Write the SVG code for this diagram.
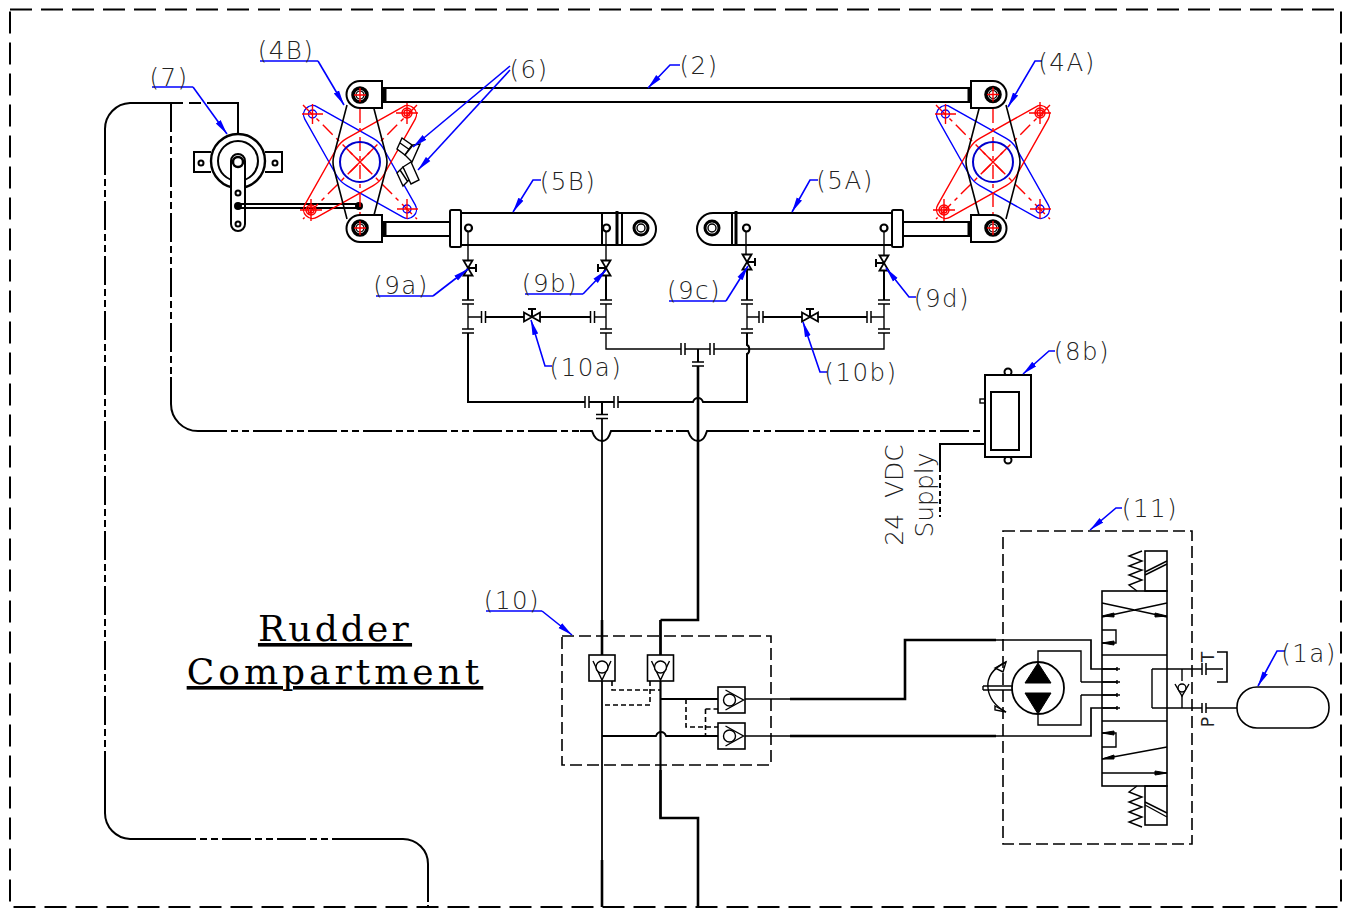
<svg xmlns="http://www.w3.org/2000/svg" width="1350" height="910" viewBox="0 0 1350 910">
<style>
text{font-family:"DejaVu Sans","Liberation Sans",sans-serif;font-weight:200;fill:#222}
.lbl{font-size:24.5px;text-anchor:middle;letter-spacing:1.5px}
.ttl{font-family:"DejaVu Serif","Liberation Serif",serif;font-weight:400;font-size:36px;text-anchor:middle;fill:#000;text-decoration:underline;letter-spacing:4px}
.rot{font-size:25px;text-anchor:middle}
.k{fill:none;stroke:#000;stroke-width:2}
.kw{fill:#fff;stroke:#000;stroke-width:2}
.t{fill:none;stroke:#000;stroke-width:1.4}
.w{fill:none;stroke:#000;stroke-width:2.6}
.wd{fill:none;stroke:#000;stroke-width:2;stroke-dasharray:29 4 7 4 7 4}
.d{fill:none;stroke:#000;stroke-width:1.6;stroke-dasharray:12 5}
.ds{fill:none;stroke:#000;stroke-width:1.6;stroke-dasharray:5 3}
.r{fill:none;stroke:#f00;stroke-width:1.4}
.rd{fill:none;stroke:#f00;stroke-width:1.4;stroke-dasharray:14 5 4 5}
.b{fill:none;stroke:#00f;stroke-width:1.4}
.l{fill:none;stroke:#00f;stroke-width:1.6;marker-end:url(#ah)}
.u{fill:none;stroke:#00f;stroke-width:1.6}
.blk{fill:#000;stroke:#000}
</style>
<defs>
<marker id="ah" markerUnits="userSpaceOnUse" markerWidth="16" markerHeight="8" refX="15" refY="4" orient="auto"><path d="M0 1 L15 4 L0 7 Z" fill="#00f"/></marker>
<path id="plate" d="M7.3 26 L69.4 8.7 A9 9 0 0 0 69.4 -8.7 L7.3 -26 A27 27 0 0 0 -7.3 -26 L-69.4 -8.7 A9 9 0 0 0 -69.4 8.7 L-7.3 26 A27 27 0 0 0 7.3 26 Z"/>
<g id="lobe"><circle r="5" class="r"/><circle r="3" class="r"/><path d="M-11 0H11M0 -11V11" class="r"/></g>
<g id="brg"><circle r="7" fill="#fff" stroke="#000" stroke-width="3.600"/><circle r="4" fill="none" stroke="#000" stroke-width="1.200"/><path d="M-6 0H6M0 -7V7" class="r"/></g>
<g id="vv"><path d="M-4.5 -7.5H4.5L-4.5 7.5H4.5Z" fill="#fff" stroke="#000" stroke-width="1.8"/></g>
<g id="vh"><path d="M-8 -4.5V4.5L8 -4.5V4.5Z" fill="#fff" stroke="#000" stroke-width="1.8"/><path d="M0 0V-8M-4 -8H4" class="k"/></g>
<path id="fh" d="M-6 -2H6M-6 2H6" stroke="#000" stroke-width="1.5" fill="none"/>
<path id="fv" d="M-2 -6V6M2 -6V6" stroke="#000" stroke-width="1.5" fill="none"/>
<g id="cvd"><rect x="-13" y="-13" width="26" height="26" fill="#fff" stroke="#000" stroke-width="1.6"/><path d="M-9 -7L0 12L9 -7" class="t"/><circle cy="-1" r="6" fill="#fff" stroke="#000" stroke-width="1.4"/></g>
<g id="cvr"><rect x="-13.5" y="-13" width="27" height="26" fill="#fff" stroke="#000" stroke-width="1.6"/><path d="M-6 -10L12 0L-6 10" class="t"/><circle cx="-2" r="6" fill="#fff" stroke="#000" stroke-width="1.4"/></g>
</defs>
<rect width="1350" height="910" fill="#fff"/>

<g id="border"><rect x="10" y="9.500" width="1331" height="897.500" fill="none" stroke="#000" stroke-width="2" stroke-dasharray="22 9"/></g>

<g id="connectors">
<path class="wd" d="M428 895V907" style="stroke-dasharray:7 3"/>
<path class="k" d="M428 895V864A25 25 0 0 0 403 839H361M172 839H130A26 26 0 0 1 105 813V780M105 165V129A26 26 0 0 1 130 103H171"/>
<path class="wd" d="M361 839H172M105 780V165"/>
<path class="wd" d="M171 103V377"/>
<path class="k" d="M171 377V404A27 27 0 0 0 198 431"/>
<path class="wd" d="M198 431H580"/>
<path class="k" d="M580 431H592C594 437 597 441 602 441C607 441 609 437 611 431H622M676 431H688C690 437 693 441 698 441C703 441 705 437 707 431H720"/>
<path class="wd" d="M622 431H676"/>
<path class="wd" d="M720 431H985"/>
<path class="d" d="M171 103H212" style="stroke-width:2;stroke-dasharray:12 6"/>
<path class="k" d="M210 103H238V133"/>
<path class="k" d="M985 444H940V467"/>
<path class="ds" d="M940 467V517" style="stroke-width:2"/>
<path class="t" d="M468 232V261M606 232V261M746 232V255M884 232V255"/>
<path class="k" d="M468 276V300M606 276V300M747 270V300M884 270V300"/>
<path class="t" d="M468 304V329M606 304V329M747 304V329M884 304V329"/>
<path class="t" d="M468 317H482M594 317H606M747 317H759M871 317H884"/>
<path class="k" d="M485 317H524M540 317H591M763 317H802M818 317H867"/>
<path class="k" d="M468 333V402H585M589 402H614M618 402H693C694 399 696 398 698 398C700 398 702 399 703 402H747V354C750 353 750 346 747 345V333"/>
<path class="t" d="M606 333V349H681M685 349H710M714 349H884V333"/>
<path class="k" d="M602 402V415M698 349V362"/>
<path class="t" d="M602 418V860" style="stroke-width:1.8"/>
<path class="w" d="M602 860V907"/>
<path class="w" d="M698 366V620H660.500"/>
<path class="t" d="M660.500 620V818" style="stroke-width:1.8"/>
<path class="w" d="M660.500 770V818H698V907"/>
<path class="w" d="M602 620V655"/>
<path class="w" d="M660.500 620V655"/>
<g>
<use href="#fh" x="468" y="302"/><use href="#fh" x="606" y="302"/><use href="#fh" x="747" y="302"/><use href="#fh" x="884" y="302"/>
<use href="#fh" x="468" y="331"/><use href="#fh" x="606" y="331"/><use href="#fh" x="747" y="331"/><use href="#fh" x="884" y="331"/>
<use href="#fv" x="483.500" y="317"/><use href="#fv" x="592.500" y="317"/><use href="#fv" x="761" y="317"/><use href="#fv" x="869" y="317"/>
<use href="#fv" x="587" y="402"/><use href="#fv" x="616" y="402"/><use href="#fv" x="683" y="349"/><use href="#fv" x="712" y="349"/>
<use href="#fh" x="602" y="416.500"/><use href="#fh" x="698" y="364"/>
</g>
<use href="#vh" x="532" y="317"/><use href="#vh" x="810" y="317"/>
<path class="k" d="M660.500 681V770" style="stroke-width:1.6"/>
<path class="t" d="M660.500 699H718M602 736H656C657 733 659 732 661 732C663 732 665 733 666 736H718" style="stroke-width:1.8"/>
<path class="t" d="M745 699H790M745 736H790M996 640H1091V669H1117M996 736H1091V708H1117" style="stroke-width:1.700"/>
<path class="w" d="M790 699H905V640H996M790 736H996"/>
<path class="ds" d="M612 681V690H650M650 681V705H602M650 690H661"/>
<path class="ds" d="M686 699V727H718M705.500 709V736M705.500 709H718"/>
</g>

<g id="node-7">
<circle cx="238" cy="161" r="27" class="kw" style="stroke-width:2.400"/>
<path d="M211 152H194V172H211M265 152H282V172H265" class="k"/>
<circle cx="238" cy="161" r="20" class="k"/>
<circle cx="201" cy="163" r="2.500" class="k"/><circle cx="275" cy="163" r="2.500" class="k"/>
<path d="M231 161A7 7 0 0 1 245 161V224A7 7 0 0 1 231 224Z" class="kw"/>
<circle cx="238" cy="162" r="5" fill="#fff" stroke="#000" stroke-width="2.500"/>
<circle cx="238" cy="193" r="2.500" class="k"/><circle cx="238" cy="224" r="2.500" class="k"/>
<circle cx="238" cy="206" r="3" fill="#000" stroke="#000" stroke-width="2"/>
<path d="M238 204H359M238 208H359" class="k"/>
<circle cx="359" cy="206" r="3" fill="#000" stroke="#000" stroke-width="2"/>
</g>

<g id="node-4B">
<use href="#plate" transform="translate(360 162) rotate(45)" class="b"/>
<use href="#plate" transform="translate(360 162) rotate(-45)" class="r"/>
<path d="M303 105L417 219M417 105L303 219M360 81V242" class="rd"/>
<path d="M350 152L370 172M370 152L350 172" class="r"/>
<circle cx="360" cy="162" r="20" fill="none" stroke="#00c" stroke-width="2"/>
<circle cx="312.500" cy="114" r="4" class="b"/><circle cx="407" cy="209" r="4" class="b"/>
<use href="#lobe" x="407" y="113"/><use href="#lobe" x="311" y="210"/>
<path d="M302 114H323M312.500 104V124M397 209H418M407 199V219" class="r"/>
<path d="M347 105L334 155Q332 162 334 169L347 219M373 105L386 155Q388 162 386 169L373 219" class="t" style="stroke-width:1.600"/>
<path d="M360 81H382V108H360A13.500 13.500 0 0 1 360 81Z" class="kw"/>
<path d="M360 215H382V242H360A13.500 13.500 0 0 1 360 215Z" class="kw"/>
<use href="#brg" x="360" y="95"/><use href="#brg" x="360" y="228"/>
<path d="M402 138L412 145L405 155L397 149ZM400 143L410 150" class="kw" style="stroke-width:1.400"/>
<path d="M413 145L420 144L412 162L405 155Z" class="kw" style="stroke-width:1.400"/>
<path d="M397 173L403 167L411 178L403 186ZM400 170L408 182" class="kw" style="stroke-width:1.400"/>
<path d="M403 167L411 162L419 180L411 184Z" class="kw" style="stroke-width:1.400"/>
</g>

<g id="node-4A">
<use href="#plate" transform="translate(993 162) rotate(45)" class="b"/>
<use href="#plate" transform="translate(993 162) rotate(-45)" class="r"/>
<path d="M936 105L1050 219M1050 105L936 219M993 81V242" class="rd"/>
<path d="M983 152L1003 172M1003 152L983 172" class="r"/>
<circle cx="993" cy="162" r="20" fill="none" stroke="#00c" stroke-width="2"/>
<circle cx="945.500" cy="114" r="4" class="b"/><circle cx="1040" cy="209" r="4" class="b"/>
<use href="#lobe" x="1040" y="113"/><use href="#lobe" x="944" y="210"/>
<path d="M935 114H956M945.500 104V124M1030 209H1051M1040 199V219" class="r"/>
<path d="M980 105L967 155Q965 162 967 169L980 219M1006 105L1019 155Q1021 162 1019 169L1006 219" class="t" style="stroke-width:1.600"/>
<path d="M993 81H971V108H993A13.500 13.500 0 0 0 993 81Z" class="kw"/>
<path d="M993 215H971V242H993A13.500 13.500 0 0 0 993 215Z" class="kw"/>
<use href="#brg" x="993" y="94.500"/><use href="#brg" x="993" y="228"/>
</g>

<g id="node-2"><rect x="384" y="88" width="586" height="14" class="k"/><path d="M385.500 88V102M968.500 88V102" class="k"/></g>

<g id="node-5B">
<rect x="384" y="222" width="66" height="14" class="k"/><path d="M385.500 222V236" class="k"/>
<rect x="450" y="210" width="11" height="37" rx="1.500" class="kw"/>
<path d="M461 213H640A16 16 0 0 1 640 245H461" class="k"/>
<path d="M602 213V245M622 213V245" class="k"/>
<path d="M617 211V246" class="k" style="stroke-width:3"/>
<circle cx="468.500" cy="228" r="3.500" fill="#fff" stroke="#000" stroke-width="2.200"/>
<circle cx="606.500" cy="228" r="3.500" fill="#fff" stroke="#000" stroke-width="2.200"/>
<circle cx="641" cy="228" r="7" fill="#fff" stroke="#000" stroke-width="3"/><circle cx="641" cy="228" r="4" class="t"/>
</g>

<g id="node-5A">
<rect x="903" y="222" width="67" height="14" class="k"/><path d="M968.500 222V236" class="k"/>
<rect x="892" y="210" width="11" height="37" rx="1.500" class="kw"/>
<path d="M892 213H713A16 16 0 0 0 713 245H892" class="k"/>
<path d="M732 213V245" class="k"/>
<path d="M736 211V246" class="k" style="stroke-width:3"/>
<circle cx="746.500" cy="228" r="3.500" fill="#fff" stroke="#000" stroke-width="2.200"/>
<circle cx="884" cy="228" r="3.500" fill="#fff" stroke="#000" stroke-width="2.200"/>
<circle cx="712" cy="228" r="7" fill="#fff" stroke="#000" stroke-width="3"/><circle cx="712" cy="228" r="4" class="t"/>
</g>

<g id="node-9a"><use href="#vv" x="468" y="268"/><path d="M468 268H476M476 264V272" class="k"/></g>
<g id="node-9b"><use href="#vv" x="606" y="268"/><path d="M606 268H598M598 264V272" class="k"/></g>
<g id="node-9c"><use href="#vv" x="747" y="262"/><path d="M747 262H755M755 258V266" class="k"/></g>
<g id="node-9d"><use href="#vv" x="884" y="263"/><path d="M884 263H876M876 259V267" class="k"/></g>

<g id="node-8b">
<circle cx="1008" cy="372" r="3.500" class="kw"/><circle cx="1008" cy="460" r="3.500" class="kw"/>
<rect x="980" y="399" width="5" height="4" class="k" style="stroke-width:1.400"/>
<rect x="985" y="375" width="46" height="82" class="kw"/>
<rect x="991" y="392" width="28" height="58" class="k"/>
</g>

<g id="node-10">
<rect x="562" y="636" width="209" height="129" class="d"/>
<use href="#cvd" x="602" y="668"/><use href="#cvd" x="660.500" y="668"/>
<use href="#cvr" x="731.500" y="700"/><use href="#cvr" x="731.500" y="736"/>
</g>

<g id="node-11">
<rect x="1003" y="531" width="189" height="313" class="d"/>
<path class="t" d="M1081 682H1117M1081 695H1117M1117 667V671M1117 680V684M1117 693V697M1117 706V710"/>
<path class="t" d="M1038 663V651H1081V682M1038 714V725H1081V695"/>
<circle cx="1038" cy="688" r="26" class="kw" style="stroke-width:1.800"/>
<path class="blk" d="M1038 663L1025 683H1051ZM1025 693H1051L1038 714Z"/>
<path class="t" d="M983 686H1012M983 690H1012M983 686V690"/>
<path class="t" d="M1006 662C990 670 987 680 988 688C989 698 995 706 1006 712"/>
<path class="t" d="M995 668L1006 662L1003 672ZM995 706L1006 712L995 710Z"/>
<rect x="1102" y="591" width="65" height="195" class="k" style="stroke-width:1.600"/>
<path class="t" d="M1102 655H1167M1102 721H1167M1102 669H1120M1102 682H1120M1102 695H1120M1102 708H1120" style="stroke-width:1.600"/>
<path class="t" d="M1102 603L1167 617M1167 603L1102 617M1102 630H1116V643H1102M1102 733H1116V747H1102M1102 759L1167 747M1102 773H1167"/>
<path class="blk" d="M1102 616L1114 613V617ZM1167 616L1155 613V617ZM1102 643L1114 641V645ZM1102 733L1114 731V735ZM1102 759L1114 755V759ZM1167 773L1155 771V775Z"/>
<path class="t" d="M1152 669V708M1152 669H1202M1182 669V681M1182 695V708"/>
<path class="t" d="M1206 669H1223M1217 652H1227V682H1217M1152 708H1202M1206 708H1237" style="stroke-width:1.600"/>
<path class="t" d="M1202 663V675M1206 663V675M1202 703V713M1206 703V713" style="stroke-width:1.500"/>
<path class="t" d="M1175 684L1182 696L1189 684"/><circle cx="1182" cy="688" r="4" class="t"/>
<text style="font-size:17px;font-weight:400;text-anchor:middle" transform="translate(1214 657) rotate(-90)">T</text>
<text style="font-size:17px;font-weight:400;text-anchor:middle" transform="translate(1214 722) rotate(-90)">P</text>
<rect x="1145" y="551" width="22" height="40" class="k" style="stroke-width:1.600"/>
<path class="t" d="M1145 572L1167 561M1145 575L1167 564"/>
<path class="t" d="M1142 551L1129 556L1142 561L1129 566L1142 570L1129 575L1142 580L1129 585L1137 591"/>
<rect x="1145" y="786" width="22" height="39" class="k" style="stroke-width:1.600"/>
<path class="t" d="M1145 802L1167 813M1145 805L1167 817"/>
<path class="t" d="M1137 786L1129 792L1142 797L1129 802L1142 807L1129 812L1142 817L1129 822L1142 827"/>
</g>

<g id="node-1a"><rect x="1237" y="687" width="92" height="41" rx="20" ry="20" class="k" style="stroke-width:1.600"/></g>

<g id="leaders">
<path class="l" d="M193 87L227 134"/><path class="u" d="M152 87H193"/>
<path class="l" d="M318 61L344 105"/><path class="u" d="M260 61H318"/>
<path class="l" d="M510 66L413 147"/><path class="l" d="M510 70L418 170"/>
<path class="l" d="M680 65H670L648 88"/>
<path class="l" d="M1042 61H1035L1008 107"/>
<path class="l" d="M541 180H533L513 212"/>
<path class="l" d="M818 180H810L792 212"/>
<path class="l" d="M433 296L468 269"/><path class="u" d="M376 296H433"/>
<path class="l" d="M583 294L606 270"/><path class="u" d="M525 294H583"/>
<path class="l" d="M726 301L748 266"/><path class="u" d="M669 301H726"/>
<path class="l" d="M916 297H909L886 268"/>
<path class="l" d="M552 366H545L531 320"/>
<path class="l" d="M827 372H820L803 322"/>
<path class="l" d="M1055 351H1049L1023 374"/>
<path class="l" d="M542 611L572 635"/><path class="u" d="M486 611H542"/>
<path class="l" d="M1122 508H1116L1090 530"/>
<path class="l" d="M1285 651H1277L1258 686"/>
</g>

<g id="labels">
<text class="lbl" x="169" y="86">(7)</text>
<text class="lbl" x="286" y="59">(4B)</text>
<text class="lbl" x="529" y="78">(6)</text>
<text class="lbl" x="699" y="74">(2)</text>
<text class="lbl" x="1067" y="71">(4A)</text>
<text class="lbl" x="568" y="190">(5B)</text>
<text class="lbl" x="845" y="189">(5A)</text>
<text class="lbl" x="401" y="294">(9a)</text>
<text class="lbl" x="550" y="292">(9b)</text>
<text class="lbl" x="694" y="299">(9c)</text>
<text class="lbl" x="942" y="307">(9d)</text>
<text class="lbl" x="586" y="376">(10a)</text>
<text class="lbl" x="861" y="381">(10b)</text>
<text class="lbl" x="1082" y="360">(8b)</text>
<text class="lbl" x="512" y="609">(10)</text>
<text class="lbl" x="1150" y="517">(11)</text>
<text class="lbl" x="1309" y="662">(1a)</text>
<text class="rot" transform="translate(903 495) rotate(-90)" xml:space="preserve">24  VDC</text>
<text class="rot" transform="translate(933 495) rotate(-90)">Supply</text>
<text class="ttl" x="335" y="641" style="letter-spacing:3.200px">Rudder</text>
<text class="ttl" x="335" y="684">Compartment</text>
</g>
</svg>
